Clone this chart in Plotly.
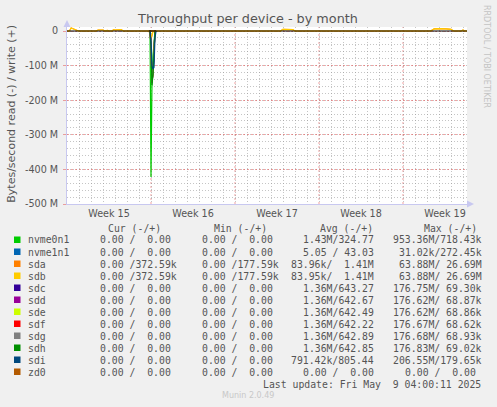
import plotly.graph_objects as go

# ---- data (bytes/second, x in days from start of week 15) ----
devices = ["nvme0n1", "nvme1n1", "sda", "sdb", "sdc", "sdd", "sde", "sdf",
           "sdg", "sdh", "sdi", "zd0"]
colors = ["#00CC00", "#0066B3", "#FF8000", "#FFCC00", "#330099", "#990099",
          "#CCFF00", "#FF0000", "#808080", "#008F00", "#00487D", "#B35A00"]

# read side (negative) around the big spike at the start of week 16
spike_days = [6.83, 6.92, 7.0, 7.08, 7.17, 7.25, 7.33, 7.42]
read_nvme0n1 = [0, 0, -422e6, -155e6, -70e6, -20e6, 0, 0]
read_nvme1n1 = [0, 0, 0, 0, 0, 0, 0, 0]
read_sda = [0, -8e6, -25e6, -10e6, 0, 0, 0, 0]
read_sdb = [0, -8e6, -22e6, -10e6, 0, 0, 0, 0]
read_sdc = [0, 0, -40e6, -150e6, -120e6, -50e6, 0, 0]
read_sdd = [0, 0, -40e6, -148e6, -120e6, -50e6, 0, 0]
read_sde = [0, 0, -40e6, -148e6, -120e6, -50e6, 0, 0]
read_sdf = [0, 0, -40e6, -149e6, -120e6, -50e6, 0, 0]
read_sdg = [0, 0, -40e6, -150e6, -120e6, -50e6, 0, 0]
read_sdh = [0, 0, -45e6, -157e6, -125e6, -55e6, 0, 0]
read_sdi = [0, 0, -30e6, -100e6, -110e6, -105e6, -20e6, 0]
read_zd0 = [0, 0, 0, 0, 0, 0, 0, 0]

# write side (positive): small sda/sdb bumps
write_days = [0, 0.2, 0.35, 0.5, 0.75, 0.95,
              2.4, 2.6, 3.0, 3.2,
              3.35, 3.5, 3.75,
              3.9, 4.0, 4.3, 4.5, 4.7,
              17.8, 18.0, 18.5, 18.8, 19.0,
              21.7, 21.85, 22.0,
              30.3, 30.6, 31.0, 31.6, 32.0, 32.2,
              32.9, 33.0, 33.1, 33.33]
write_sda = [0, 0, 9e6, 7e6, 3e6, 0,
             0, 3e6, 3e6, 0,
             2e6, 0, 0,
             4e6, 3e6, 4e6, 4e6, 0,
             0, 5e6, 5e6, 4e6, 0,
             0, 2e6, 0,
             0, 6e6, 7e6, 6e6, 5e6, 0,
             0, 3e6, 0, 0]
write_sdb = [0, 0, 9e6, 7e6, 3e6, 0,
             0, 3e6, 3e6, 0,
             2e6, 0, 0,
             4e6, 3e6, 4e6, 4e6, 0,
             0, 5e6, 5e6, 4e6, 0,
             0, 2e6, 0,
             0, 6e6, 7e6, 6e6, 5e6, 0,
             0, 3e6, 0, 0]

reads = [read_nvme0n1, read_nvme1n1, read_sda, read_sdb, read_sdc, read_sdd,
         read_sde, read_sdf, read_sdg, read_sdh, read_sdi, read_zd0]
writes = {"sda": write_sda, "sdb": write_sdb}

week_labels = ["Week 15", "Week 16", "Week 17", "Week 18", "Week 19"]
week_mid = [3.5, 10.5, 17.5, 24.5, 31.5]
week_starts = [7, 14, 21, 28]
y_ticks = [0, -100e6, -200e6, -300e6, -400e6, -500e6]
y_labels = ["0", "-100 M", "-200 M", "-300 M", "-400 M", "-500 M"]

# legend table
cur_vals = ["0.00 /  0.00", "0.00 /  0.00", "0.00 /372.59k", "0.00 /372.59k",
            "0.00 /  0.00", "0.00 /  0.00", "0.00 /  0.00", "0.00 /  0.00",
            "0.00 /  0.00", "0.00 /  0.00", "0.00 /  0.00", "0.00 /  0.00"]
min_vals = ["0.00 /  0.00", "0.00 /  0.00", "0.00 /177.59k", "0.00 /177.59k",
            "0.00 /  0.00", "0.00 /  0.00", "0.00 /  0.00", "0.00 /  0.00",
            "0.00 /  0.00", "0.00 /  0.00", "0.00 /  0.00", "0.00 /  0.00"]
avg_vals = ["1.43M/324.77", "5.05 / 43.03", "83.96k/  1.41M", "83.95k/  1.41M",
            "1.36M/643.27", "1.36M/642.67", "1.36M/642.49", "1.36M/642.22",
            "1.36M/642.89", "1.36M/642.85", "791.42k/805.44", "0.00 /  0.00"]
max_vals = ["953.36M/718.43k", "31.02k/272.45k", "63.88M/ 26.69M", "63.88M/ 26.69M",
            "176.75M/ 69.30k", "176.62M/ 68.87k", "176.62M/ 68.86k", "176.67M/ 68.62k",
            "176.68M/ 68.93k", "176.83M/ 69.02k", "206.55M/179.65k", "0.00 /  0.00 "]
last_update = "Last update: Fri May  9 04:00:11 2025"

# ---- geometry (pixels of the 497x407 canvas) ----
W, H = 497, 407
PL, PR, PT, PB = 67, 467, 27, 204


def px_x(px):
    return (px - PL) / (PR - PL)


def px_y(py):
    return (PB - py) / (PB - PT)


def nb(s):
    return s.replace(" ", "\u00a0")


TXT = "#555555"
SANS = "DejaVu Sans"
MONO = "DejaVu Sans Mono"

fig = go.Figure()

for name, col, rd in zip(devices, colors, reads):
    fig.add_trace(go.Scatter(x=spike_days, y=rd, mode="lines", name=name,
                             line=dict(color=col, width=1.2), showlegend=False))
    if name in writes:
        fig.add_trace(go.Scatter(x=write_days, y=writes[name], mode="lines",
                                 name=name, line=dict(color=col, width=1.2),
                                 showlegend=False))

GRID_MINOR = "rgba(150,150,150,0.55)"
GRID_MAJOR = "rgba(230,90,90,0.55)"
AXIS = "#C8C8F0"

shapes = []
for d in week_starts:
    shapes.append(dict(type="line", xref="x", yref="paper", x0=d, x1=d, y0=0, y1=1,
                       line=dict(color=GRID_MAJOR, width=1, dash="2px,2px"),
                       layer="below"))
# zero line on top of the traces, like rrdtool
shapes.append(dict(type="line", xref="paper", yref="y", x0=0, x1=1, y0=0, y1=0,
                   line=dict(color="black", width=1), layer="above"))
# axis arrows
shapes.append(dict(type="path", xref="paper", yref="paper",
                   path=f"M {px_x(63.5)},{px_y(27)} L {px_x(70.5)},{px_y(27)} L {px_x(67)},{px_y(20)} Z",
                   fillcolor=AXIS, line=dict(width=0)))
shapes.append(dict(type="path", xref="paper", yref="paper",
                   path=f"M {px_x(467)},{px_y(200.5)} L {px_x(467)},{px_y(207.5)} L {px_x(474)},{px_y(204)} Z",
                   fillcolor=AXIS, line=dict(width=0)))

annotations = []


def txt(px, py, text, size, font=SANS, color=TXT, anchor="left", angle=0):
    annotations.append(dict(x=px_x(px), y=px_y(py), xref="paper", yref="paper",
                            text=nb(text), showarrow=False, xanchor=anchor,
                            yanchor="middle", textangle=angle, borderpad=0,
                            font=dict(family=font, size=size, color=color)))


# y axis title and side texts
txt(10.7, 114, "Bytes/second read (-) / write (+)", 11, anchor="center", angle=-90)
txt(487, 56, "RRDTOOL / TOBI OETIKER", 8, color="#C4C4C4", anchor="center", angle=90)
txt(248, 396, "Munin 2.0.49", 8, color="#C8C8C8", anchor="center")

# legend table
FS = 9.8
txt(107, 228, "Cur (-/+)", FS, MONO)
txt(213, 228, "Min (-/+)", FS, MONO)
txt(319, 228, "Avg (-/+)", FS, MONO)
txt(423, 228, "Max (-/+)", FS, MONO)
for i, name in enumerate(devices):
    yy = 240 + 12 * i
    shapes.append(dict(type="rect", xref="paper", yref="paper",
                       x0=px_x(14), x1=px_x(20.5), y0=px_y(yy - 3.5), y1=px_y(yy + 3),
                       fillcolor=colors[i], line=dict(width=0)))
    txt(27, yy, name, FS, MONO)
    txt(99, yy, cur_vals[i], FS, MONO)
    txt(201, yy, min_vals[i], FS, MONO)
    txt(375, yy, avg_vals[i], FS, MONO, anchor="right")
    txt(483, yy, max_vals[i], FS, MONO, anchor="right")
txt(482, 384, last_update, FS, MONO, anchor="right")

fig.update_layout(
    width=W, height=H,
    margin=dict(l=PL, r=W - PR, t=PT, b=H - PB, pad=0),
    paper_bgcolor="#F0F0F0",
    plot_bgcolor="white",
    title=dict(text="Throughput per device - by month", x=px_x(248), xref="paper",
               y=1 - 19 / H, yref="container", xanchor="center", yanchor="middle",
               font=dict(family=SANS, size=12.8, color=TXT)),
    showlegend=False,
    shapes=shapes,
    annotations=annotations,
    xaxis=dict(range=[0, 400 / 12], tickmode="array", tickvals=week_mid,
               ticktext=week_labels, ticks="", showgrid=False, zeroline=False,
               showline=True, linecolor=AXIS, linewidth=1,
               tickfont=dict(family=SANS, size=9.6, color=TXT),
               minor=dict(tick0=0, dtick=1, showgrid=True, gridcolor=GRID_MINOR,
                          griddash="1px,2px", gridwidth=1)),
    yaxis=dict(range=[-500e6, 11.6e6], tickmode="array", tickvals=y_ticks,
               ticktext=y_labels, ticks="outside", ticklen=3, tickcolor=GRID_MAJOR,
               ticklabelstandoff=3,
               showgrid=True, gridcolor=GRID_MAJOR, griddash="2px,2px", gridwidth=1,
               zeroline=False, showline=True, linecolor=AXIS, linewidth=1,
               tickfont=dict(family=SANS, size=9.6, color=TXT),
               minor=dict(tick0=0, dtick=20e6, showgrid=True, gridcolor=GRID_MINOR,
                          griddash="1px,2px", gridwidth=1)),
)

# the page body has a default 8px margin; drop it so the chart fills the window
fig.write_html("out.html", config={"displayModeBar": False},
               post_script="document.body.style.margin='0';")
